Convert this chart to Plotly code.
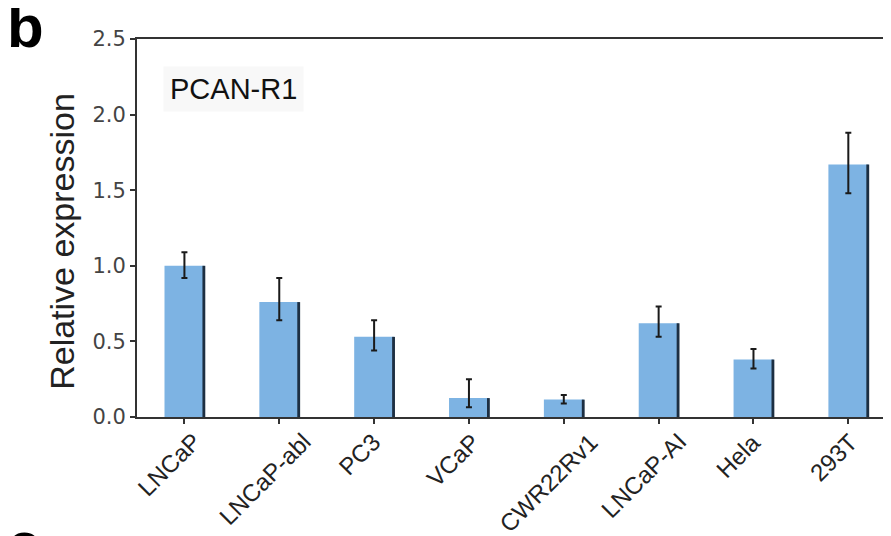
import plotly.graph_objects as go

categories = ["LNCaP", "LNCaP-abl", "PC3", "VCaP", "CWR22Rv1", "LNCaP-AI", "Hela", "293T"]
values = [1.00, 0.76, 0.53, 0.125, 0.115, 0.62, 0.38, 1.67]
err_plus = [0.09, 0.16, 0.11, 0.125, 0.03, 0.11, 0.07, 0.21]
err_minus = [0.08, 0.12, 0.09, 0.06, 0.025, 0.09, 0.06, 0.19]
y_ticks = [0.0, 0.5, 1.0, 1.5, 2.0, 2.5]

xs = list(range(len(categories)))

fig = go.Figure()
# main bars
fig.add_trace(go.Bar(
    x=xs, y=values, width=0.42,
    marker=dict(color="#7db3e3", line=dict(width=0)),
    showlegend=False, hoverinfo="skip",
))
# dark right-edge shadow
fig.add_trace(go.Bar(
    x=xs, y=values, width=0.03, offset=0.19,
    marker=dict(color="#1d2f42", line=dict(width=0)),
    showlegend=False, hoverinfo="skip",
))
# error bars
fig.add_trace(go.Scatter(
    x=xs, y=values, mode="markers",
    marker=dict(size=1, color="rgba(0,0,0,0)"),
    error_y=dict(type="data", array=err_plus, arrayminus=err_minus,
                 color="#1a1a1a", thickness=2, width=3),
    showlegend=False, hoverinfo="skip",
))

label_font = dict(size=24, family="Liberation Sans, Arial, sans-serif", color="#222")
annotations = [
    dict(text=cat, xref="x", yref="paper", x=i, y=-0.022,
         xanchor="center", yanchor="top", textangle=-45, xshift=-15,
         showarrow=False, font=label_font)
    for i, cat in enumerate(categories)
]
annotations += [
    dict(text="Relative expression", xref="paper", yref="paper",
         x=-0.0995, y=0.466, xanchor="center", yanchor="middle",
         textangle=-90, showarrow=False,
         font=dict(size=34, family="Liberation Sans, Arial, sans-serif", color="#222")),
    dict(text="PCAN-R1", xref="paper", yref="paper",
         x=0.0345, y=0.869, xanchor="left", yanchor="middle",
         showarrow=False, bgcolor="#f8f8f8", borderpad=6,
         font=dict(size=29, family="Liberation Sans, Arial, sans-serif", color="#111")),
    dict(text="<b>b</b>", xref="paper", yref="paper",
         x=-0.175, y=1.128, xanchor="left", yanchor="top",
         showarrow=False,
         font=dict(size=60, family="Liberation Sans, Arial, sans-serif", color="#000")),
    dict(text="<b>c</b>", xref="paper", yref="paper",
         x=-0.175, y=-0.241, xanchor="left", yanchor="top",
         showarrow=False,
         font=dict(size=60, family="Liberation Sans, Arial, sans-serif", color="#000")),
]

# the page body has an 8px default margin, so the figure is 8px smaller
fig.update_layout(
    width=883, height=528,
    margin=dict(l=129, r=0, t=31, b=119, autoexpand=False),
    paper_bgcolor="white", plot_bgcolor="white",
    barmode="overlay",
    font=dict(family="Liberation Sans, Arial, sans-serif", color="#222"),
    xaxis=dict(
        range=[-0.5, 7.45],
        tickmode="array", tickvals=xs, ticktext=["" for _ in categories],
        showline=True, linecolor="#333", linewidth=2, mirror=True,
        ticks="outside", tickson="boundaries", ticklen=5, tickcolor="#333", tickwidth=2,
        showgrid=False, zeroline=False, automargin=False,
    ),
    yaxis=dict(
        range=[0, 2.5],
        tickmode="array", tickvals=y_ticks, ticktext=[f"{v:.1f}" for v in y_ticks],
        tickfont=dict(size=21, family="DejaVu Sans, sans-serif", color="#444"),
        showline=True, linecolor="#333", linewidth=2,
        ticks="outside", ticklen=5, tickcolor="#333", tickwidth=2,
        showgrid=False, zeroline=False, automargin=False,
    ),
    annotations=annotations,
)

fig.write_html("out.html")
